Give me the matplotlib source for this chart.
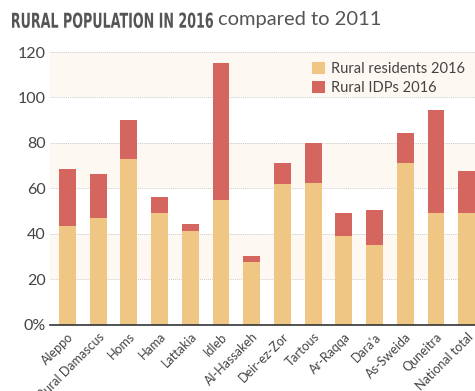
import numpy as np
import matplotlib
matplotlib.use('Agg')
import matplotlib.pyplot as plt
from matplotlib.textpath import TextPath
from matplotlib.patches import PathPatch
from matplotlib.font_manager import FontProperties
from matplotlib.transforms import Affine2D, IdentityTransform

regions = ['Aleppo', 'Rural Damascus', 'Homs', 'Hama', 'Lattakia', 'Idleb',
           'Al-Hassakeh', 'Deir-ez-Zor', 'Tartous', 'Ar-Raqqa', "Dara'a",
           'As-Sweida', 'Quneitra', 'National total']
residents = [43.4, 46.8, 72.8, 49.0, 41.2, 55.1, 27.5, 61.8, 62.2, 39.0, 35.0, 71.2, 49.1, 49.1]
totals = [68.4, 66.2, 90.0, 56.2, 44.5, 115.0, 30.1, 71.0, 80.0, 49.0, 50.6, 84.4, 94.4, 67.8]
idps = [t - r for t, r in zip(totals, residents)]

yticks = [0, 20, 40, 60, 80, 100, 120]
ytick_labels = ['0%', '20', '40', '60', '80', '100', '120']

plt.rcParams['font.family'] = ['Lato', 'DejaVu Sans']

fig = plt.figure(figsize=(4.75, 3.91), dpi=100)
ax = fig.add_axes([0.105, 0.169, 0.895, 0.698])

x = np.arange(len(regions))
# alternating bands
for lo in [20, 60, 100]:
    ax.axhspan(lo, lo + 20, color='#fdf8f1', zorder=0, lw=0)
for t in yticks[1:]:
    ax.axhline(t, color='#cccccc', lw=0.7, ls=(0, (1, 1)), zorder=1)

ax.bar(x, residents, width=0.55, color='#f0c685', label='Rural residents 2016', zorder=2)
ax.bar(x, idps, width=0.55, bottom=residents, color='#d4665f', label='Rural IDPs 2016', zorder=2)

ax.set_xlim(-0.57, 13.27)
ax.set_ylim(0, 120)
ax.set_yticks(yticks)
ax.set_yticklabels(ytick_labels, fontsize=11.5, color='#444444')
ax.set_xticks(x)
ax.set_xticklabels(regions, rotation=45, ha='right', rotation_mode='anchor', fontsize=9, color='#444444')
ax.tick_params(axis='both', length=0, pad=3)
ax.tick_params(axis='x', pad=4)
for s in ['top', 'right', 'left']:
    ax.spines[s].set_visible(False)
ax.spines['bottom'].set_color('#333333')
ax.spines['bottom'].set_linewidth(1.2)

leg = ax.legend(loc='upper right', bbox_to_anchor=(1.0, 1.0), frameon=False, fontsize=10.5,
                handlelength=0.9, handleheight=0.9, handletextpad=0.4, labelspacing=0.3,
                borderaxespad=0.3)
for t in leg.get_texts():
    t.set_color('#444444')

# condensed bold title part, squeezed horizontally
title_bold = 'RURAL POPULATION IN 2016'
tp = TextPath((0, 0), title_bold, size=20, prop=FontProperties(family='DejaVu Sans', weight='bold'))
bb = tp.get_extents()
H = 391
sx = 201.0 / bb.width
sy = 15.5 / bb.height
tr = Affine2D().translate(-bb.x0, -bb.y0).scale(sx, sy).translate(12, H - 28)
fig.add_artist(PathPatch(tr.transform_path(tp), transform=IdentityTransform(),
                         color='#555555', lw=0))
fig.text(218 / 475, 1 - 20 / 391, 'compared to 2011', fontsize=14.5, color='#555555', va='center')

fig.savefig('out.png', dpi=100)
